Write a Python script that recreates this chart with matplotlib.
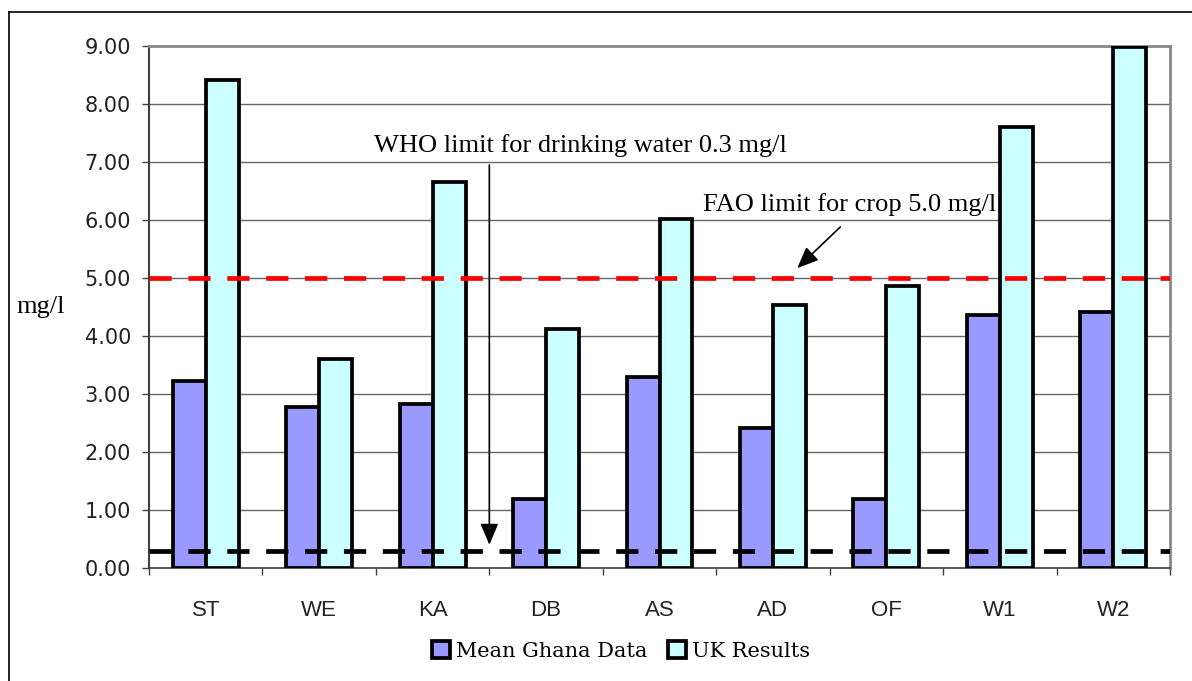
import matplotlib
matplotlib.use("Agg")
import matplotlib.pyplot as plt
from matplotlib.patches import Patch
import numpy as np

# Sampling sites and measured concentrations (mg/l)
sites = ["ST", "WE", "KA", "DB", "AS", "AD", "OF", "W1", "W2"]
ghana_mean = [3.22, 2.78, 2.83, 1.19, 3.29, 2.41, 1.19, 4.36, 4.41]
uk_results = [8.41, 3.60, 6.66, 4.12, 6.02, 4.53, 4.86, 7.60, 8.98]
series_names = ["Mean Ghana Data", "UK Results"]
series_colors = ["#9999FF", "#CCFFFF"]

# Guideline limits (mg/l)
who_limit = 0.3
fao_limit = 5.0
y_ticks = [0, 1, 2, 3, 4, 5, 6, 7, 8, 9]

plt.rcParams["lines.scale_dashes"] = False

W, H = 1192, 681
fig = plt.figure(figsize=(W / 100, H / 100), dpi=100)
ax = fig.add_axes([149 / W, (H - 568) / H, 1021 / W, 522 / H])

x = np.arange(len(sites))
bw = 0.29
for vals, off, col in zip([ghana_mean, uk_results], [-bw / 2, bw / 2], series_colors):
    ax.bar(x + off, vals, width=bw, color=col, edgecolor="black",
           linewidth=2.7, zorder=3)

# Limit lines drawn over the bars
ax.axhline(fao_limit, color="#FF0000", linewidth=3.4, dashes=(16, 12), zorder=4)
ax.axhline(who_limit, color="black", linewidth=3.4, dashes=(16, 12), zorder=4)

ax.set_xlim(-0.5, len(sites) - 0.5)
ax.set_ylim(0, 9)
ax.set_yticks(y_ticks)
ax.set_yticklabels([f"{v:.2f}" for v in y_ticks], fontsize=15,
                   family="DejaVu Sans", color="#222222")
ax.yaxis.grid(True, color="#666666", linewidth=1.0, zorder=0)
ax.set_axisbelow(True)

ax.set_xticks(x)
ax.set_xticklabels(sites, fontsize=16, family="Liberation Sans", color="#222222")
ax.set_xticks(np.arange(-0.5, len(sites) + 0.5, 1.0), minor=True)
ax.tick_params(axis="x", which="major", length=0, pad=23)
ax.tick_params(axis="x", which="minor", length=5, color="#404040", width=1)
ax.tick_params(axis="y", length=5, color="#404040", width=1, pad=8)

for side in ["top", "right"]:
    ax.spines[side].set_color("#888888")
    ax.spines[side].set_linewidth(2)
ax.spines["left"].set_color("#404040")
ax.spines["left"].set_linewidth(1.5)
ax.spines["bottom"].set_color("#404040")
ax.spines["bottom"].set_linewidth(1.2)

# Annotations for the guideline values
ax.text(3.30, 7.28, "WHO limit for drinking water 0.3 mg/l", ha="center",
        va="center", fontsize=19, family="Liberation Serif", zorder=2)
ax.annotate("", xy=(2.5, 0.40), xytext=(2.5, 6.95),
            arrowprops=dict(arrowstyle="-|>,head_width=0.55,head_length=1.3",
                            color="black", lw=1.2, shrinkA=0, shrinkB=0),
            zorder=5)
ax.text(4.385, 6.26, "FAO limit for crop 5.0 mg/l", ha="left", va="center",
        fontsize=19, family="Liberation Serif", zorder=2)
ax.annotate("", xy=(5.214, 5.17), xytext=(5.594, 5.88),
            arrowprops=dict(arrowstyle="-|>,head_width=0.55,head_length=1.3",
                            color="black", lw=1.2, shrinkA=0, shrinkB=0),
            zorder=5)

fig.text(41 / W, 1 - 307 / H, "mg/l", ha="center", va="center",
         fontsize=19, family="Liberation Serif")

handles = [Patch(facecolor=c, edgecolor="black", linewidth=2.7) for c in series_colors]
fig.legend(handles, series_names, loc="center", ncol=2,
           bbox_to_anchor=(621 / W, 1 - 651 / H), frameon=False,
           handlelength=0.85, handleheight=0.85, handletextpad=0.3,
           columnspacing=1.0, prop={"family": "DejaVu Serif", "size": 15})

# Outer frame of the figure
fig.add_artist(plt.Line2D([9 / W, 9 / W], [0, 1 - 12 / H], color="black",
                          linewidth=1.2, transform=fig.transFigure))
fig.add_artist(plt.Line2D([9 / W, 1], [1 - 12 / H, 1 - 12 / H], color="black",
                          linewidth=1.2, transform=fig.transFigure))

fig.savefig("out.png", dpi=100)
